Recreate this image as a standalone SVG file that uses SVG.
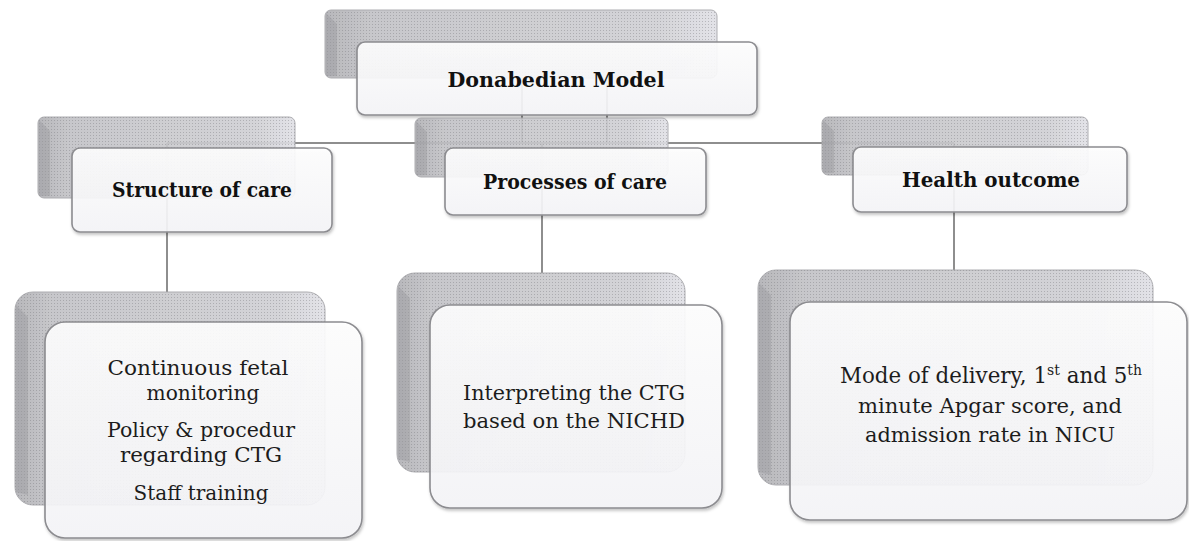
<svg xmlns="http://www.w3.org/2000/svg" width="1189" height="541" viewBox="0 0 1189 541">
  <style>
    .back { fill: url(#backGrad); stroke: #a4a4a8; stroke-width: 1; opacity: 0.9; }
    .tex { fill: url(#dots); stroke: none; opacity: 0.9; }
    .bevel { fill: #9c9ca0; opacity: 0.45; }
    .front { fill: url(#frontGrad); fill-opacity: 0.9; stroke: #8c8c90; stroke-width: 1.6; filter: url(#shadow); }
    .conn { stroke: #8e8e8e; stroke-width: 2; fill: none; }
    .title { font-family: "DejaVu Serif", "Liberation Serif", serif; font-weight: bold; font-size: 20px; fill: #111111; text-anchor: middle; }
    .body { font-family: "DejaVu Serif", "Liberation Serif", serif; font-size: 20px; fill: #1c1c1c; text-anchor: middle; }
    .big { font-size: 21.4px; }
    .sup { font-size: 14px; }
  </style>
  <defs>
    <linearGradient id="backGrad" x1="0" y1="0" x2="1" y2="0">
      <stop offset="0" stop-color="#b0b0b4"/>
      <stop offset="0.12" stop-color="#c2c2c6"/>
      <stop offset="0.85" stop-color="#d0d0d4"/>
      <stop offset="1" stop-color="#e0e0e6"/>
    </linearGradient>
    <linearGradient id="frontGrad" x1="0" y1="0" x2="0" y2="1">
      <stop offset="0" stop-color="#ffffff"/>
      <stop offset="1" stop-color="#f6f6f9"/>
    </linearGradient>
    <pattern id="dots" width="3" height="3" patternUnits="userSpaceOnUse">
      <rect x="0" y="0" width="1" height="1" fill="#6e6e72" opacity="0.4"/>
    </pattern>
    <filter id="shadow" x="-5%" y="-5%" width="110%" height="115%">
      <feDropShadow dx="1" dy="2" stdDeviation="1.5" flood-color="#000" flood-opacity="0.25"/>
    </filter>
  </defs>

  <g id="connectors">
    <line class="conn" x1="522" y1="80" x2="522" y2="143"/>
    <line class="conn" x1="607" y1="80" x2="607" y2="143"/>
    <line class="conn" x1="167" y1="143" x2="954" y2="143"/>
    <line class="conn" x1="167" y1="143" x2="167" y2="292"/>
    <line class="conn" x1="542" y1="143" x2="542" y2="273"/>
    <line class="conn" x1="954" y1="143" x2="954" y2="270"/>
  </g>

  <g id="donabedian">
    <rect class="back" x="325" y="10" width="392" height="68" rx="6"/>
    <rect class="tex" x="325" y="10" width="392" height="68" rx="6"/>
    <path class="bevel" d="M326,13 L337,24 L337,76 L326,76 Z"/>
    <rect class="front" x="357" y="42" width="400" height="73" rx="8"/>
    <text class="title" x="556" y="87" textLength="217" lengthAdjust="spacingAndGlyphs">Donabedian Model</text>
  </g>

  <g id="structure">
    <rect class="back" x="38" y="117" width="257" height="81" rx="6"/>
    <rect class="tex" x="38" y="117" width="257" height="81" rx="6"/>
    <path class="bevel" d="M39,120 L50,131 L50,196 L39,196 Z"/>
    <rect class="front" x="72" y="148" width="260" height="84" rx="8"/>
    <text class="title" x="202" y="197" textLength="180" lengthAdjust="spacingAndGlyphs">Structure of care</text>
  </g>

  <g id="processes">
    <rect class="back" x="415" y="118" width="253" height="59" rx="6"/>
    <rect class="tex" x="415" y="118" width="253" height="59" rx="6"/>
    <path class="bevel" d="M416,121 L427,132 L427,175 L416,175 Z"/>
    <rect class="front" x="445" y="148" width="261" height="67" rx="8"/>
    <text class="title" x="575" y="189" textLength="184" lengthAdjust="spacingAndGlyphs">Processes of care</text>
  </g>

  <g id="health">
    <rect class="back" x="822" y="117" width="266" height="58" rx="6"/>
    <rect class="tex" x="822" y="117" width="266" height="58" rx="6"/>
    <path class="bevel" d="M823,120 L834,131 L834,173 L823,173 Z"/>
    <rect class="front" x="853" y="147" width="274" height="65" rx="8"/>
    <text class="title" x="991" y="187" textLength="178" lengthAdjust="spacingAndGlyphs">Health outcome</text>
  </g>

  <g id="structure-detail">
    <rect class="back" x="15" y="292" width="310" height="213" rx="18"/>
    <rect class="tex" x="15" y="292" width="310" height="213" rx="18"/>
    <path class="bevel" d="M16,305 L28,317 L28,495 L16,492 Z"/>
    <rect class="front" x="45" y="322" width="317" height="216" rx="20"/>
    <text class="body" x="198" y="375" textLength="181" lengthAdjust="spacingAndGlyphs">Continuous fetal</text>
    <text class="body" x="203" y="400" textLength="113" lengthAdjust="spacingAndGlyphs">monitoring</text>
    <text class="body" x="201" y="437" textLength="188" lengthAdjust="spacingAndGlyphs">Policy &amp; procedur</text>
    <text class="body" x="201" y="462" textLength="162" lengthAdjust="spacingAndGlyphs">regarding CTG</text>
    <text class="body" x="201" y="500" textLength="135" lengthAdjust="spacingAndGlyphs">Staff training</text>
  </g>

  <g id="processes-detail">
    <rect class="back" x="397" y="273" width="288" height="199" rx="18"/>
    <rect class="tex" x="397" y="273" width="288" height="199" rx="18"/>
    <path class="bevel" d="M398,286 L410,298 L410,462 L398,459 Z"/>
    <rect class="front" x="430" y="305" width="292" height="203" rx="20"/>
    <text class="body" x="574" y="400" textLength="222" lengthAdjust="spacingAndGlyphs">Interpreting the CTG</text>
    <text class="body" x="574" y="428" textLength="222" lengthAdjust="spacingAndGlyphs">based on the NICHD</text>
  </g>

  <g id="health-detail">
    <rect class="back" x="758" y="270" width="395" height="215" rx="18"/>
    <rect class="tex" x="758" y="270" width="395" height="215" rx="18"/>
    <path class="bevel" d="M759,283 L771,295 L771,475 L759,472 Z"/>
    <rect class="front" x="790" y="302" width="397" height="218" rx="20"/>
    <text class="body big" x="991" y="383">Mode of delivery, 1<tspan class="sup" dy="-8">st</tspan><tspan dy="8"> and 5</tspan><tspan class="sup" dy="-8">th</tspan></text>
    <text class="body" x="990" y="413" textLength="264" lengthAdjust="spacingAndGlyphs">minute Apgar score, and</text>
    <text class="body" x="990" y="442" textLength="250" lengthAdjust="spacingAndGlyphs">admission rate in NICU</text>
  </g>
</svg>
